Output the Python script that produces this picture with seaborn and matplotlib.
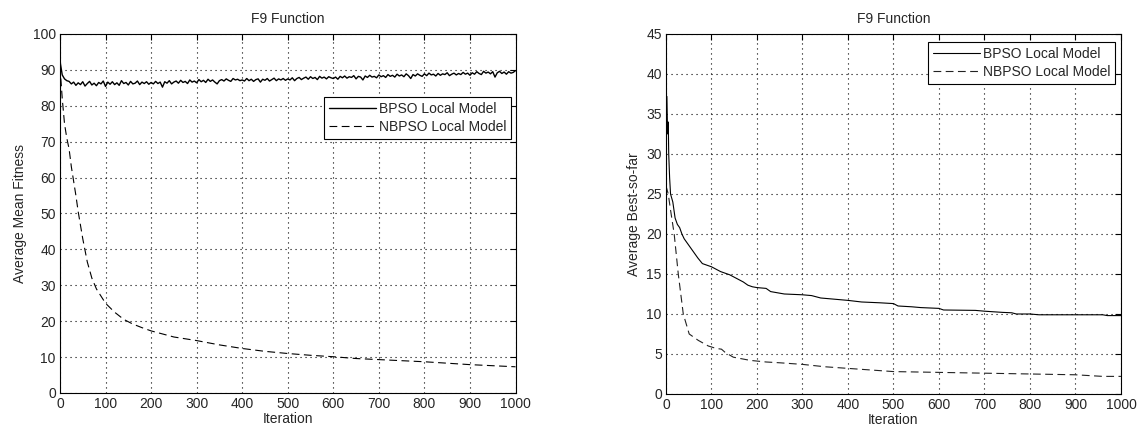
import numpy as np
import pandas as pd
import matplotlib
matplotlib.use("Agg")
import matplotlib.pyplot as plt
import seaborn as sns

# --- left panel: average mean fitness (BPSO sampled every 5 iterations)
bpso_mean_iter = list(range(0, 1001, 5))
bpso_mean = [
    92.5, 88.6, 87.5, 87.0, 86.8, 86.1, 86.6, 85.7, 86.4, 85.9, 86.7, 85.5, 86.2, 86.8, 85.8, 86.3, 85.6, 86.5, 86.1, 86.9,
    85.4, 86.6, 86.0, 86.7, 85.9, 86.4, 85.7, 87.0, 86.2, 86.5, 85.8, 86.8, 86.1, 86.3, 86.9, 85.9, 86.6, 86.2, 86.7, 86.0,
    86.5, 86.1, 86.8, 86.2, 86.6, 85.2, 86.7, 86.3, 87.0, 86.1, 86.6, 86.9, 86.3, 87.1, 86.5, 86.8, 86.2, 87.2, 86.6, 86.9,
    86.4, 87.3, 86.7, 87.1, 86.5, 87.4, 86.8, 87.2, 86.6, 86.1, 87.0, 87.3, 86.9, 87.5, 87.1, 86.8, 87.6, 87.2, 87.4, 87.0,
    87.2, 86.9, 87.6, 87.0, 87.4, 86.8, 87.3, 87.5, 86.6, 87.4, 87.1, 87.6, 86.9, 87.3, 87.7, 87.0, 87.5, 87.2, 87.6, 87.1,
    87.5, 87.2, 87.8, 87.0, 87.6, 87.9, 87.3, 87.7, 88.0, 87.4, 88.1, 87.6, 87.9, 87.3, 88.2, 87.7, 88.0, 87.5, 88.1, 87.8,
    87.6, 88.0, 87.4, 88.2, 87.8, 88.3, 87.7, 88.1, 87.9, 88.4, 87.5, 88.2, 88.0, 87.2, 88.3, 87.9, 88.5, 88.0, 88.2, 87.8,
    88.6, 88.1, 88.4, 87.9, 88.7, 88.2, 88.5, 88.0, 88.8, 88.3, 88.6, 88.1, 88.9, 88.4, 87.6, 88.7, 88.3, 88.9, 88.5, 88.2,
    88.9, 88.4, 89.1, 88.6, 88.8, 88.3, 89.0, 88.5, 88.9, 88.7, 89.2, 88.4, 88.8, 89.1, 88.6, 89.0, 88.7, 89.3, 88.8, 89.1,
    88.5, 89.2, 88.8, 89.5, 89.0, 88.7, 89.6, 89.1, 89.4, 88.9, 89.5, 88.0, 89.2, 89.6, 89.0, 89.4, 88.8, 89.5, 89.1, 89.3,
    89.8,
]
nbpso_mean_iter = [0, 5, 10, 15, 20, 25, 30, 35, 40, 50, 60, 70, 80, 90, 100, 120, 140, 160, 180, 200,
                   250, 300, 350, 400, 450, 500, 550, 600, 650, 700, 750, 800, 850, 900, 950, 1000]
nbpso_mean = [91, 82, 75, 71, 68, 63, 59, 55, 50.5, 43, 36.5, 32, 29, 27, 25, 22.5, 20.5, 19.2, 18.2, 17.3,
              15.6, 14.6, 13.4, 12.4, 11.6, 11.0, 10.5, 10.1, 9.6, 9.3, 9.0, 8.7, 8.3, 7.9, 7.6, 7.3]

# --- right panel: average best-so-far
bpso_best_iter = [0, 2, 3, 4, 5, 6, 8, 10, 15, 20, 25, 30, 35, 40, 50, 60, 70, 80, 90, 100,
                  110, 120, 130, 140, 150, 160, 170, 180, 190, 200, 220, 230, 250, 260, 300, 320, 340, 360, 400, 430,
                  470, 500, 510, 540, 560, 600, 610, 680, 700, 740, 760, 770, 800, 820, 960, 970, 1000]
bpso_best = [33, 37.2, 34, 32.5, 34, 30, 27, 25, 24, 22, 21.2, 20.8, 20, 19.4, 18.6, 17.8, 17, 16.3, 16.1, 15.9,
             15.6, 15.3, 15.1, 14.9, 14.6, 14.3, 14.0, 13.6, 13.4, 13.3, 13.2, 12.8, 12.6, 12.5, 12.4, 12.3, 12.0, 11.9, 11.7, 11.5,
             11.4, 11.3, 11.0, 10.9, 10.8, 10.7, 10.5, 10.45, 10.35, 10.2, 10.15, 10.0, 10.0, 9.9, 9.9, 9.8, 9.8]
nbpso_best_iter = [0, 5, 10, 18, 27, 38, 51, 71, 93, 110, 122, 130, 148, 185, 220, 250, 300, 350, 400, 450,
                   500, 600, 700, 800, 900, 960, 1000]
nbpso_best = [26, 25, 23, 20, 15, 10, 7.5, 6.7, 6.0, 5.7, 5.6, 5.2, 4.6, 4.2, 4.0, 3.9, 3.7, 3.4, 3.2, 3.0,
              2.8, 2.7, 2.6, 2.5, 2.4, 2.2, 2.2]

sns.set_style("white")
plt.rcParams['font.family'] = ['Liberation Sans', 'DejaVu Sans']
plt.rcParams['font.size'] = 10

fig = plt.figure(figsize=(11.4, 4.32), dpi=100)
ax1 = fig.add_axes([0.0526, 0.0903, 0.3996, 0.831])
ax2 = fig.add_axes([0.5842, 0.0880, 0.3991, 0.8333])

dash = (0, (7, 4))
sns.lineplot(x=bpso_mean_iter, y=bpso_mean, color='k', lw=1.0, label='BPSO Local Model', ax=ax1)
sns.lineplot(x=nbpso_mean_iter, y=nbpso_mean, color='k', lw=0.8, linestyle=dash,
             label='NBPSO Local Model', ax=ax1)
sns.lineplot(x=bpso_best_iter, y=bpso_best, color='k', lw=0.8, label='BPSO Local Model', ax=ax2)
sns.lineplot(x=nbpso_best_iter, y=nbpso_best, color='#222222', lw=0.8, linestyle=dash,
             label='NBPSO Local Model', ax=ax2)

for ax, ylab, ymax, ystep in [(ax1, 'Average Mean Fitness', 100, 10),
                              (ax2, 'Average Best-so-far', 45, 5)]:
    ax.set_xlim(0, 1000)
    ax.set_ylim(0, ymax)
    ax.set_xticks(np.arange(0, 1001, 100))
    ax.set_yticks(np.arange(0, ymax + 1, ystep))
    ax.set_title('F9 Function', fontsize=10, pad=8)
    ax.set_xlabel('Iteration', fontsize=10, labelpad=0.5)
    ax.set_ylabel(ylab, fontsize=10, labelpad=4)
    ax.tick_params(direction='in', length=4, width=0.8, top=True, right=True,
                   labelsize=10, pad=3, color='k')
    ax.grid(True, color='k', linestyle=(0, (1, 3.5)), linewidth=0.8)
    for s in ax.spines.values():
        s.set_color('k')
        s.set_linewidth(0.8)

leg1 = ax1.legend(loc='upper right', bbox_to_anchor=(0.991, 0.824), fancybox=False,
                  framealpha=1, edgecolor='k', handlelength=3.4, fontsize=10,
                  borderpad=0.35, labelspacing=0.3, handletextpad=0.2, borderaxespad=0)
leg2 = ax2.legend(loc='upper right', bbox_to_anchor=(0.987, 0.978), fancybox=False,
                  framealpha=1, edgecolor='k', handlelength=3.4, fontsize=10,
                  borderpad=0.35, labelspacing=0.3, handletextpad=0.2, borderaxespad=0)
for leg in (leg1, leg2):
    leg.get_frame().set_linewidth(0.8)

fig.savefig('out.png', dpi=100)
